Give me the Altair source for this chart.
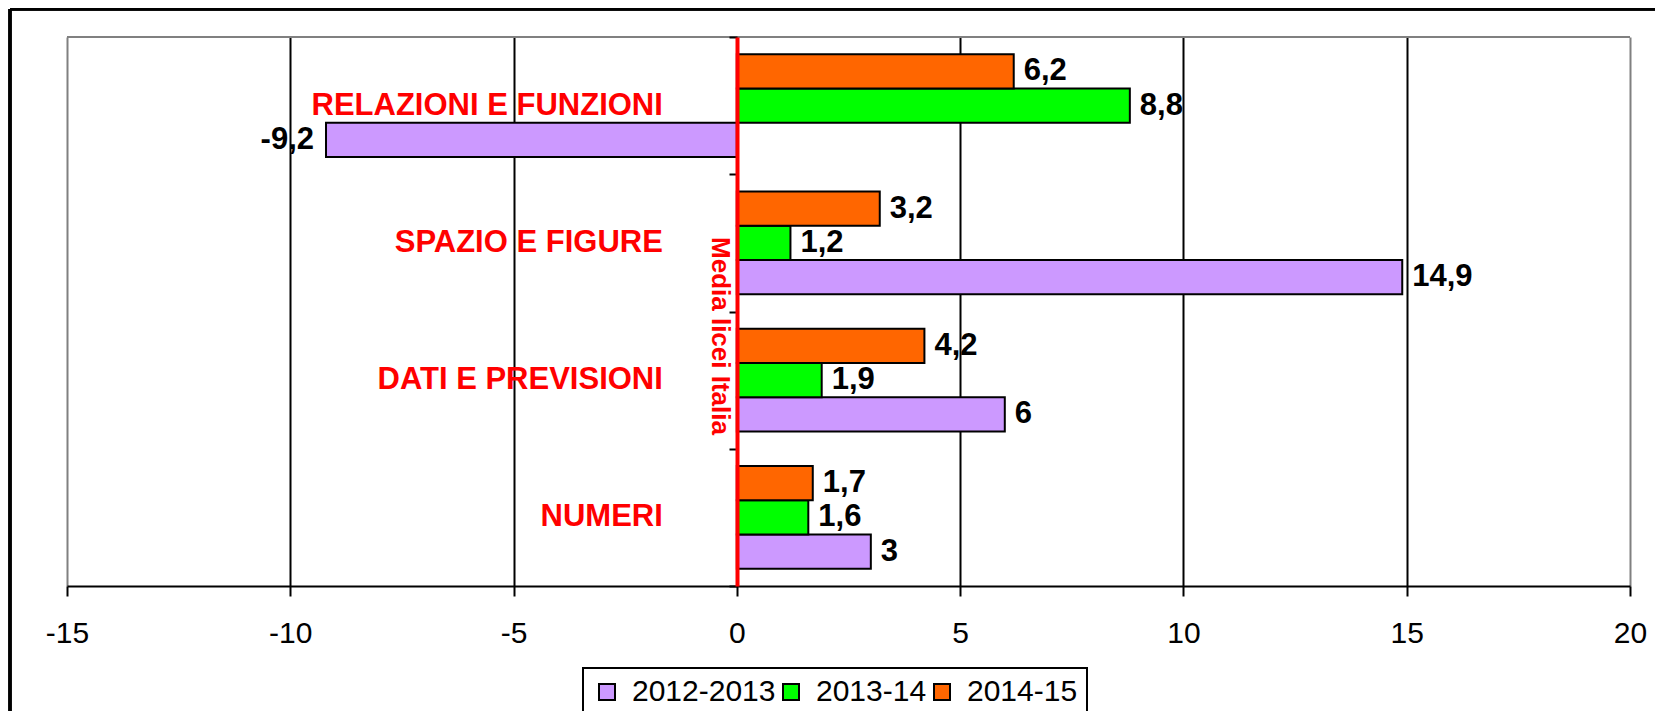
import altair as alt
import pandas as pd

categories = ["RELAZIONI E FUNZIONI", "SPAZIO E FIGURE", "DATI E PREVISIONI", "NUMERI"]
series = ["2012-2013", "2013-14", "2014-15"]
v_2012_2013 = [-9.2, 14.9, 6, 3]
v_2013_14 = [8.8, 1.2, 1.9, 1.6]
v_2014_15 = [6.2, 3.2, 4.2, 1.7]
x_ticks = [-15, -10, -5, 0, 5, 10, 15, 20]
colors = ["#CC99FF", "#00FF00", "#FF6600"]
axis_title = "Media licei Italia"

rows = []
for s, vals in zip(series, [v_2012_2013, v_2013_14, v_2014_15]):
    for c, v in zip(categories, vals):
        rows.append({"cat": c, "serie": s, "value": v,
                     "label": f"{v:g}".replace(".", ",")})
df = pd.DataFrame(rows)
cat_df = pd.DataFrame({"cat": categories})

W, H = 1563, 549
ZERO_PX = 670

x_enc = alt.X("value:Q",
              scale=alt.Scale(domain=[-15, 20], nice=False, zero=False),
              axis=alt.Axis(values=x_ticks, title=None, grid=True,
                            gridColor={"condition": {"test": "datum.value == -15 || datum.value == 20",
                                                     "value": "#808080"},
                                       "value": "black"},
                            gridWidth=2, domainColor="black", domainWidth=2,
                            tickColor="black", tickWidth=2, tickSize=10,
                            labelExpr="datum.value + ''",
                            labelFontSize=30, labelFont="Liberation Sans",
                            labelColor="black", labelPadding=22, labelFlush=False))
y_scale = alt.Scale(domain=categories, paddingInner=0, paddingOuter=0)
yoff = alt.YOffset("serie:N", sort=["2014-15", "2013-14", "2012-2013"],
                   scale=alt.Scale(domain=["2014-15", "2013-14", "2012-2013"],
                                   paddingInner=0, paddingOuter=0.5))
y_plain = alt.Y("cat:N", sort=categories)

bars = alt.Chart(df).mark_bar(stroke="black", strokeWidth=2, opacity=1).encode(
    x=x_enc,
    y=alt.Y("cat:N", scale=y_scale, sort=categories,
            axis=alt.Axis(title=None, labels=False, offset=-ZERO_PX,
                          domain=True, domainColor="#FF0000", domainWidth=4,
                          ticks=True, tickColor="black", tickWidth=2, tickSize=8,
                          tickBand="extent", grid=False, zindex=1)),
    yOffset=yoff,
    color=alt.Color("serie:N", scale=alt.Scale(domain=series, range=colors),
                    legend=alt.Legend(orient="none", legendX=516, legendY=631,
                                      direction="horizontal", title=None,
                                      symbolType="square", symbolSize=256,
                                      symbolStrokeColor="black", symbolStrokeWidth=2,
                                      symbolOpacity=1,
                                      labelFontSize=30, labelFont="Liberation Sans",
                                      labelColor="black", labelOffset=10,
                                      columnPadding=0, padding=9,
                                      strokeColor="black")),
)

pos_labels = alt.Chart(df).transform_filter("datum.value >= 0").mark_text(
    align="left", baseline="middle", dx=10, fontSize=31, fontWeight="bold",
    font="Liberation Sans", color="black").encode(
    x=alt.X("value:Q"), y=y_plain, yOffset=yoff, text="label:N")
neg_labels = alt.Chart(df).transform_filter("datum.value < 0").mark_text(
    align="right", baseline="middle", dx=-12, fontSize=31, fontWeight="bold",
    font="Liberation Sans", color="black").encode(
    x=alt.X("value:Q"), y=y_plain, yOffset=yoff, text="label:N")

cat_labels = alt.Chart(cat_df).mark_text(
    align="right", baseline="middle", dx=-74, dy=0, fontSize=31, fontWeight="bold",
    font="Liberation Sans", color="#FF0000").encode(
    x=alt.datum(0), y=y_plain, text="cat:N")

title_txt = alt.Chart(pd.DataFrame({"t": [axis_title]})).mark_text(
    align="center", baseline="middle", angle=90, dy=17, fontSize=26,
    fontWeight="bold", font="Liberation Sans", color="#FF0000").encode(
    x=alt.datum(0), y=alt.value(299), text="t:N")

top_border = alt.Chart(cat_df).mark_rule(color="#808080", strokeWidth=2).encode(
    x=alt.value(0), x2=alt.value(W), y=alt.value(0))
frame_left = alt.Chart(cat_df).mark_rule(color="black", strokeWidth=3).encode(
    x=alt.value(-57), y=alt.value(-28), y2=alt.value(720))
frame_top = alt.Chart(cat_df).mark_rule(color="black", strokeWidth=3).encode(
    x=alt.value(-57), x2=alt.value(1640), y=alt.value(-28))

chart = alt.layer(top_border, bars, pos_labels, neg_labels, cat_labels, title_txt,
                  frame_left, frame_top).properties(
    width=W, height=H,
    autosize=alt.AutoSizeParams(type="none"),
    padding={"left": 59, "top": 29, "right": 25, "bottom": 125},
    background="white",
).configure_view(stroke=None).configure_legend(strokeWidth=2)

chart.save("out.html", embed_options={"renderer": "svg", "actions": False})
